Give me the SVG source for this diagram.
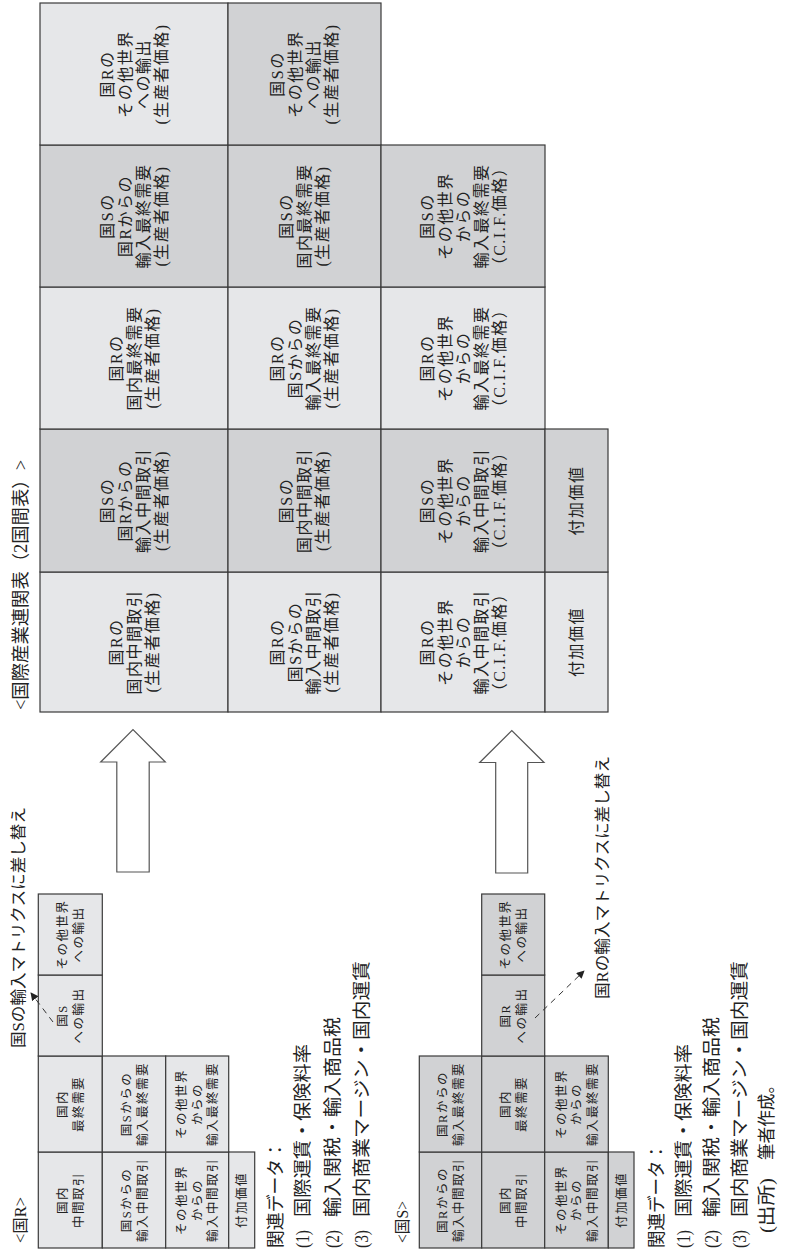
<svg xmlns="http://www.w3.org/2000/svg" width="787" height="1251" viewBox="0 0 787 1251">
<defs>
<style>
.lt{fill:#e6e7e9;stroke:#3a3a3a;stroke-width:1.2}
.dk{fill:#d1d2d4;stroke:#3a3a3a;stroke-width:1.2}
text{font-family:"Liberation Serif","Noto Sans CJK JP",serif;fill:#222}
.b{font-size:16px;text-anchor:middle;letter-spacing:1.5px}
.s{font-size:12.5px;text-anchor:middle;letter-spacing:1.5px}
.h{font-size:18px}
.t{font-size:16px}
.arr{fill:#fff;stroke:#555;stroke-width:1.2}
.dash{fill:none;stroke:#333;stroke-width:1;stroke-dasharray:6,5}
</style>
<marker id="ah" viewBox="0 0 10 10" refX="9" refY="5" markerWidth="8" markerHeight="8" markerUnits="userSpaceOnUse" orient="auto"><path d="M0,0 L10,5 L0,10 z" fill="#222"/></marker>
</defs>
<rect width="787" height="1251" fill="#fff"/>
<g transform="translate(0,1251) rotate(-90)">
<g id="title-big"><text class="h" x="541" y="27" textLength="250" lengthAdjust="spacingAndGlyphs">&lt;国際産業連関表（2国間表）&gt;</text></g>
<g id="big-table">
<g id="r1c1"><rect class="lt" x="539" y="40" width="140" height="188"/><text class="b"><tspan x="609" y="121.5">国Rの</tspan><tspan x="609" y="139.5">国内中間取引</tspan><tspan x="609" y="157.5">(生産者価格)</tspan></text></g>
<g id="r1c2"><rect class="dk" x="679" y="40" width="143" height="188"/><text class="b"><tspan x="750.5" y="112.5">国Sの</tspan><tspan x="750.5" y="130.5">国Rからの</tspan><tspan x="750.5" y="148.5">輸入中間取引</tspan><tspan x="750.5" y="166.5">(生産者価格)</tspan></text></g>
<g id="r1c3"><rect class="lt" x="822" y="40" width="142" height="188"/><text class="b"><tspan x="893" y="121.5">国Rの</tspan><tspan x="893" y="139.5">国内最終需要</tspan><tspan x="893" y="157.5">(生産者価格)</tspan></text></g>
<g id="r1c4"><rect class="dk" x="964" y="40" width="142" height="188"/><text class="b"><tspan x="1035" y="112.5">国Sの</tspan><tspan x="1035" y="130.5">国Rからの</tspan><tspan x="1035" y="148.5">輸入最終需要</tspan><tspan x="1035" y="166.5">(生産者価格)</tspan></text></g>
<g id="r1c5"><rect class="lt" x="1106" y="40" width="142" height="188"/><text class="b"><tspan x="1177" y="112.5">国Rの</tspan><tspan x="1177" y="130.5">その他世界</tspan><tspan x="1177" y="148.5">への輸出</tspan><tspan x="1177" y="166.5">(生産者価格)</tspan></text></g>
<g id="r2c1"><rect class="lt" x="539" y="228" width="140" height="153"/><text class="b"><tspan x="609" y="283">国Rの</tspan><tspan x="609" y="301">国Sからの</tspan><tspan x="609" y="319">輸入中間取引</tspan><tspan x="609" y="337">(生産者価格)</tspan></text></g>
<g id="r2c2"><rect class="dk" x="679" y="228" width="143" height="153"/><text class="b"><tspan x="750.5" y="292">国Sの</tspan><tspan x="750.5" y="310">国内中間取引</tspan><tspan x="750.5" y="328">(生産者価格)</tspan></text></g>
<g id="r2c3"><rect class="lt" x="822" y="228" width="142" height="153"/><text class="b"><tspan x="893" y="283">国Rの</tspan><tspan x="893" y="301">国Sからの</tspan><tspan x="893" y="319">輸入最終需要</tspan><tspan x="893" y="337">(生産者価格)</tspan></text></g>
<g id="r2c4"><rect class="dk" x="964" y="228" width="142" height="153"/><text class="b"><tspan x="1035" y="292">国Sの</tspan><tspan x="1035" y="310">国内最終需要</tspan><tspan x="1035" y="328">(生産者価格)</tspan></text></g>
<g id="r2c5"><rect class="dk" x="1106" y="228" width="142" height="153"/><text class="b"><tspan x="1177" y="283">国Sの</tspan><tspan x="1177" y="301">その他世界</tspan><tspan x="1177" y="319">への輸出</tspan><tspan x="1177" y="337">(生産者価格)</tspan></text></g>
<g id="r3c1"><rect class="lt" x="539" y="381" width="140" height="164"/><text class="b"><tspan x="609" y="432.5">国Rの</tspan><tspan x="609" y="450.5">その他世界</tspan><tspan x="609" y="468.5">からの</tspan><tspan x="609" y="486.5">輸入中間取引</tspan><tspan x="609" y="504.5">（C.I.F.価格）</tspan></text></g>
<g id="r3c2"><rect class="dk" x="679" y="381" width="143" height="164"/><text class="b"><tspan x="750.5" y="432.5">国Sの</tspan><tspan x="750.5" y="450.5">その他世界</tspan><tspan x="750.5" y="468.5">からの</tspan><tspan x="750.5" y="486.5">輸入中間取引</tspan><tspan x="750.5" y="504.5">（C.I.F.価格）</tspan></text></g>
<g id="r3c3"><rect class="lt" x="822" y="381" width="142" height="164"/><text class="b"><tspan x="893" y="432.5">国Rの</tspan><tspan x="893" y="450.5">その他世界</tspan><tspan x="893" y="468.5">からの</tspan><tspan x="893" y="486.5">輸入最終需要</tspan><tspan x="893" y="504.5">（C.I.F.価格）</tspan></text></g>
<g id="r3c4"><rect class="dk" x="964" y="381" width="142" height="164"/><text class="b"><tspan x="1035" y="432.5">国Sの</tspan><tspan x="1035" y="450.5">その他世界</tspan><tspan x="1035" y="468.5">からの</tspan><tspan x="1035" y="486.5">輸入最終需要</tspan><tspan x="1035" y="504.5">（C.I.F.価格）</tspan></text></g>
<g id="r4c1"><rect class="lt" x="539" y="545" width="140" height="63"/><text class="b" x="609" y="582">付加価値</text></g>
<g id="r4c2"><rect class="dk" x="679" y="545" width="143" height="63"/><text class="b" x="750.5" y="582">付加価値</text></g>
</g>
<g id="table-R">
<text class="t" x="8" y="26" textLength="46" lengthAdjust="spacingAndGlyphs">&lt;国R&gt;</text>
<g id="R-c1r1"><rect class="lt" x="3" y="38.3" width="96" height="64"/><text class="s"><tspan x="51" y="67">国内</tspan><tspan x="51" y="82.5">中間取引</tspan></text></g>
<g id="R-c1r2"><rect class="lt" x="3" y="102.3" width="96" height="63.4"/><text class="s"><tspan x="51" y="131">国Sからの</tspan><tspan x="51" y="146.5">輸入中間取引</tspan></text></g>
<g id="R-c1r3"><rect class="lt" x="3" y="165.7" width="96" height="63"/><text class="s"><tspan x="51" y="186">その他世界</tspan><tspan x="51" y="201.5">からの</tspan><tspan x="51" y="217">輸入中間取引</tspan></text></g>
<g id="R-c1r4"><rect class="lt" x="3" y="228.7" width="96" height="26"/><text class="s" x="51" y="246">付加価値</text></g>
<g id="R-c2r1"><rect class="lt" x="99" y="38.3" width="96" height="64"/><text class="s"><tspan x="147" y="67">国内</tspan><tspan x="147" y="82.5">最終需要</tspan></text></g>
<g id="R-c2r2"><rect class="lt" x="99" y="102.3" width="96" height="63.4"/><text class="s"><tspan x="147" y="131">国Sからの</tspan><tspan x="147" y="146.5">輸入最終需要</tspan></text></g>
<g id="R-c2r3"><rect class="lt" x="99" y="165.7" width="96" height="63"/><text class="s"><tspan x="147" y="186">その他世界</tspan><tspan x="147" y="201.5">からの</tspan><tspan x="147" y="217">輸入最終需要</tspan></text></g>
<g id="R-c3r1"><rect class="lt" x="195" y="38.3" width="81" height="64"/><text class="s"><tspan x="235.5" y="67">国S</tspan><tspan x="235.5" y="82.5">への輸出</tspan></text></g>
<g id="R-c4r1"><rect class="lt" x="276" y="38.3" width="81" height="64"/><text class="s"><tspan x="316.5" y="67">その他世界</tspan><tspan x="316.5" y="82.5">への輸出</tspan></text></g>
<g id="R-note"><text class="t" x="203" y="23.5" textLength="241" lengthAdjust="spacingAndGlyphs">国Sの輸入マトリクスに差し替え</text></g>
<g id="R-data">
<text class="h" x="3" y="281.5" textLength="107" lengthAdjust="spacingAndGlyphs">関連データ：</text>
<text class="h" x="3" y="309" textLength="18" lengthAdjust="spacingAndGlyphs">(1)</text><text class="h" x="34" y="309" textLength="173" lengthAdjust="spacingAndGlyphs">国際運賃・保険料率</text>
<text class="h" x="3" y="338.5" textLength="18" lengthAdjust="spacingAndGlyphs">(2)</text><text class="h" x="34" y="338.5" textLength="200" lengthAdjust="spacingAndGlyphs">輸入関税・輸入商品税</text>
<text class="h" x="3" y="367.5" textLength="18" lengthAdjust="spacingAndGlyphs">(3)</text><text class="h" x="34" y="367.5" textLength="256" lengthAdjust="spacingAndGlyphs">国内商業マージン・国内運賃</text>
</g>
</g>
<g id="table-S">
<text class="t" x="8" y="408" textLength="42" lengthAdjust="spacingAndGlyphs">&lt;国S&gt;</text>
<g id="S-c1r1"><rect class="dk" x="3" y="419.3" width="96" height="62.4"/><text class="s"><tspan x="51" y="447">国Rからの</tspan><tspan x="51" y="462.5">輸入中間取引</tspan></text></g>
<g id="S-c1r2"><rect class="dk" x="3" y="481.7" width="96" height="63"/><text class="s"><tspan x="51" y="510">国内</tspan><tspan x="51" y="525.5">中間取引</tspan></text></g>
<g id="S-c1r3"><rect class="dk" x="3" y="544.7" width="96" height="63.6"/><text class="s"><tspan x="51" y="565.5">その他世界</tspan><tspan x="51" y="581">からの</tspan><tspan x="51" y="596.5">輸入中間取引</tspan></text></g>
<g id="S-c1r4"><rect class="dk" x="3" y="608.3" width="96" height="25.7"/><text class="s" x="51" y="625.7">付加価値</text></g>
<g id="S-c2r1"><rect class="dk" x="99" y="419.3" width="96" height="62.4"/><text class="s"><tspan x="147" y="447">国Rからの</tspan><tspan x="147" y="462.5">輸入最終需要</tspan></text></g>
<g id="S-c2r2"><rect class="dk" x="99" y="481.7" width="96" height="63"/><text class="s"><tspan x="147" y="510">国内</tspan><tspan x="147" y="525.5">最終需要</tspan></text></g>
<g id="S-c2r3"><rect class="dk" x="99" y="544.7" width="96" height="63.6"/><text class="s"><tspan x="147" y="565.5">その他世界</tspan><tspan x="147" y="581">からの</tspan><tspan x="147" y="596.5">輸入最終需要</tspan></text></g>
<g id="S-c3r2"><rect class="dk" x="195" y="481.7" width="81" height="63"/><text class="s"><tspan x="235.5" y="510">国R</tspan><tspan x="235.5" y="525.5">への輸出</tspan></text></g>
<g id="S-c4r2"><rect class="dk" x="276" y="481.7" width="81" height="63"/><text class="s"><tspan x="316.5" y="510">その他世界</tspan><tspan x="316.5" y="525.5">への輸出</tspan></text></g>
<g id="S-note"><text class="t" x="252" y="608" textLength="243" lengthAdjust="spacingAndGlyphs">国Rの輸入マトリクスに差し替え</text></g>
<g id="S-data">
<text class="h" x="3" y="663" textLength="105" lengthAdjust="spacingAndGlyphs">関連データ：</text>
<text class="h" x="3" y="690" textLength="18" lengthAdjust="spacingAndGlyphs">(1)</text><text class="h" x="34" y="690" textLength="173" lengthAdjust="spacingAndGlyphs">国際運賃・保険料率</text>
<text class="h" x="3" y="717.5" textLength="18" lengthAdjust="spacingAndGlyphs">(2)</text><text class="h" x="34" y="717.5" textLength="200" lengthAdjust="spacingAndGlyphs">輸入関税・輸入商品税</text>
<text class="h" x="3" y="745.5" textLength="18" lengthAdjust="spacingAndGlyphs">(3)</text><text class="h" x="34" y="745.5" textLength="256" lengthAdjust="spacingAndGlyphs">国内商業マージン・国内運賃</text>
<text class="h" x="18" y="772.5" textLength="55" lengthAdjust="spacingAndGlyphs">(出所)</text><text class="h" x="91" y="772.5" textLength="83" lengthAdjust="spacingAndGlyphs">筆者作成。</text>
</g>
</g>
<g id="connectors">
<polygon class="arr" points="379,116.8 489,116.8 489,100.7 521.5,133 489,165.3 489,149.2 379,149.2"/>
<polygon class="arr" points="378,495.7 488.5,495.7 488.5,479.7 520.5,511.8 488.5,544 488.5,527.7 378,527.7"/>
<line class="dash" x1="229" y1="53" x2="258" y2="31" marker-end="url(#ah)"/>
<line class="dash" x1="233" y1="535" x2="280" y2="584" marker-end="url(#ah)"/>
</g>
</g>
</svg>
